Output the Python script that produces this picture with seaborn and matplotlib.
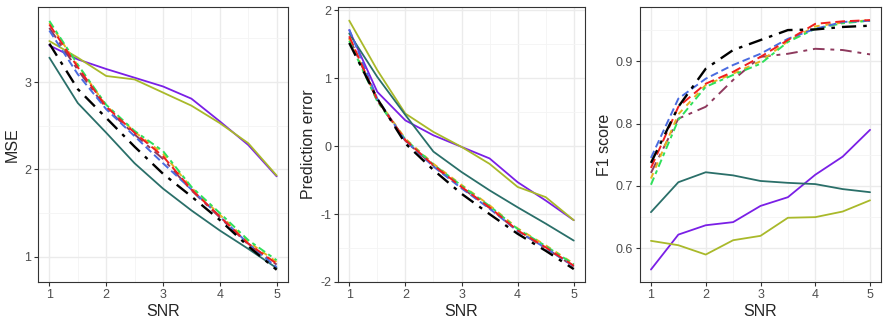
import numpy as np
import pandas as pd
import matplotlib
matplotlib.use("Agg")
import matplotlib.pyplot as plt
from matplotlib.ticker import MultipleLocator
import seaborn as sns

# valeurs
snr = [1, 1.5, 2, 2.5, 3, 3.5, 4, 4.5, 5]
methods = ["purple", "olive", "teal", "maroon", "gold", "green", "blue", "red", "black"]

mse = {
    "purple": [3.42, 3.26, 3.15, 3.05, 2.95, 2.81, 2.55, 2.28, 1.92],
    "olive": [3.47, 3.28, 3.07, 3.03, 2.88, 2.73, 2.53, 2.30, 1.93],
    "teal": [3.28, 2.76, 2.42, 2.07, 1.78, 1.53, 1.30, 1.09, 0.87],
    "black": [3.44, 2.92, 2.59, 2.26, 1.95, 1.69, 1.42, 1.12, 0.85],
    "blue": [3.59, 3.09, 2.69, 2.38, 2.07, 1.77, 1.46, 1.15, 0.88],
    "red": [3.66, 3.17, 2.72, 2.42, 2.15, 1.77, 1.46, 1.15, 0.92],
    "green": [3.70, 3.20, 2.74, 2.44, 2.21, 1.80, 1.50, 1.19, 0.96],
    "maroon": [3.62, 3.14, 2.70, 2.40, 2.12, 1.76, 1.45, 1.14, 0.91],
    "gold": [3.68, 3.19, 2.73, 2.43, 2.18, 1.79, 1.48, 1.17, 0.94],
}

pred_error = {
    "purple": [1.71, 0.80, 0.38, 0.16, -0.01, -0.18, -0.53, -0.80, -1.09],
    "olive": [1.85, 1.12, 0.48, 0.21, -0.01, -0.26, -0.60, -0.75, -1.09],
    "teal": [1.66, 1.02, 0.46, -0.08, -0.38, -0.65, -0.90, -1.14, -1.39],
    "black": [1.52, 0.70, 0.04, -0.35, -0.70, -1.00, -1.29, -1.54, -1.81],
    "blue": [1.72, 0.70, 0.08, -0.30, -0.62, -0.92, -1.25, -1.50, -1.77],
    "red": [1.62, 0.68, 0.09, -0.28, -0.60, -0.90, -1.24, -1.49, -1.76],
    "green": [1.55, 0.66, 0.10, -0.27, -0.58, -0.88, -1.22, -1.47, -1.74],
    "maroon": [1.60, 0.67, 0.08, -0.29, -0.61, -0.91, -1.25, -1.50, -1.77],
    "gold": [1.58, 0.69, 0.11, -0.26, -0.57, -0.87, -1.21, -1.46, -1.73],
}

f1 = {
    "purple": [0.566, 0.622, 0.637, 0.642, 0.668, 0.682, 0.718, 0.747, 0.790],
    "olive": [0.612, 0.605, 0.590, 0.613, 0.620, 0.649, 0.650, 0.659, 0.677],
    "teal": [0.658, 0.706, 0.722, 0.717, 0.708, 0.705, 0.703, 0.695, 0.690],
    "black": [0.737, 0.827, 0.888, 0.918, 0.934, 0.950, 0.951, 0.955, 0.957],
    "blue": [0.745, 0.840, 0.872, 0.894, 0.912, 0.936, 0.952, 0.963, 0.965],
    "red": [0.729, 0.827, 0.864, 0.883, 0.907, 0.934, 0.960, 0.964, 0.966],
    "green": [0.702, 0.806, 0.859, 0.878, 0.896, 0.931, 0.952, 0.961, 0.965],
    "maroon": [0.721, 0.808, 0.827, 0.870, 0.907, 0.912, 0.920, 0.918, 0.911],
    "gold": [0.712, 0.815, 0.862, 0.880, 0.900, 0.932, 0.956, 0.962, 0.966],
}

palette = {
    "purple": "#7A1FE6", "olive": "#A9B92A", "teal": "#2A6F69",
    "black": "#000000", "blue": "#4A6BE0", "red": "#F01E1E",
    "green": "#2EE05A", "maroon": "#8E3A5E", "gold": "#E8B020",
}
dashes = {
    "purple": "", "olive": "", "teal": "",
    "black": (6, 3, 1.5, 3), "blue": (4, 2), "red": (5, 2.5),
    "green": (4, 2, 2, 2), "maroon": (6, 3, 2, 3), "gold": (3, 3),
}
widths = {"purple": 1.3, "olive": 1.3, "teal": 1.3, "black": 1.7}


def to_long(d):
    rows = []
    for m in methods:
        for x, y in zip(snr, d[m]):
            rows.append({"SNR": x, "value": y, "method": m})
    return pd.DataFrame(rows)


sns.set_style("white")
plt.rcParams["font.family"] = ["Liberation Sans", "DejaVu Sans"]
plt.rcParams["axes.unicode_minus"] = False

fig = plt.figure(figsize=(8.88, 3.25), dpi=100)
positions = [
    [38 / 888, 43 / 325, 250 / 888, 275 / 325],
    [338 / 888, 43 / 325, 247 / 888, 275 / 325],
    [640 / 888, 43 / 325, 241 / 888, 275 / 325],
]
panels = [
    (mse, "MSE", (0.71, 3.86), [1, 2, 3], 0.5),
    (pred_error, "Prediction error", (-2.0, 2.05), [-2, -1, 0, 1, 2], 0.5),
    (f1, "F1 score", (0.546, 0.987), [0.6, 0.7, 0.8, 0.9], 0.05),
]

for pos, (data, label, ylim, yticks, yminor) in zip(positions, panels):
    ax = fig.add_axes(pos)
    df = to_long(data)
    for m in methods:
        sub = df[df["method"] == m]
        ls = "-" if dashes[m] == "" else (0, dashes[m])
        sns.lineplot(data=sub, x="SNR", y="value", color=palette[m], linestyle=ls,
                     linewidth=widths.get(m, 1.4), ax=ax, legend=False)

    ax.set_xlim(0.8, 5.2)
    ax.set_ylim(*ylim)
    ax.set_xticks([1, 2, 3, 4, 5])
    ax.set_yticks(yticks)
    ax.xaxis.set_minor_locator(MultipleLocator(0.5))
    ax.yaxis.set_minor_locator(MultipleLocator(yminor))
    ax.grid(which="major", color="#EBEBEB", linewidth=1.0)
    ax.grid(which="minor", color="#F4F4F4", linewidth=0.6)
    ax.set_axisbelow(True)
    for s in ax.spines.values():
        s.set_color("#333333")
        s.set_linewidth(0.8)
    ax.tick_params(which="major", length=3, width=0.8, color="#333333",
                   labelsize=9, labelcolor="#4D4D4D", pad=2, bottom=True, left=True)
    ax.tick_params(which="minor", length=0)
    ax.set_xlabel("SNR", fontsize=11.5, labelpad=2)
    ax.set_ylabel(label, fontsize=11.5, labelpad=3)

plt.savefig("out.png", dpi=100)
